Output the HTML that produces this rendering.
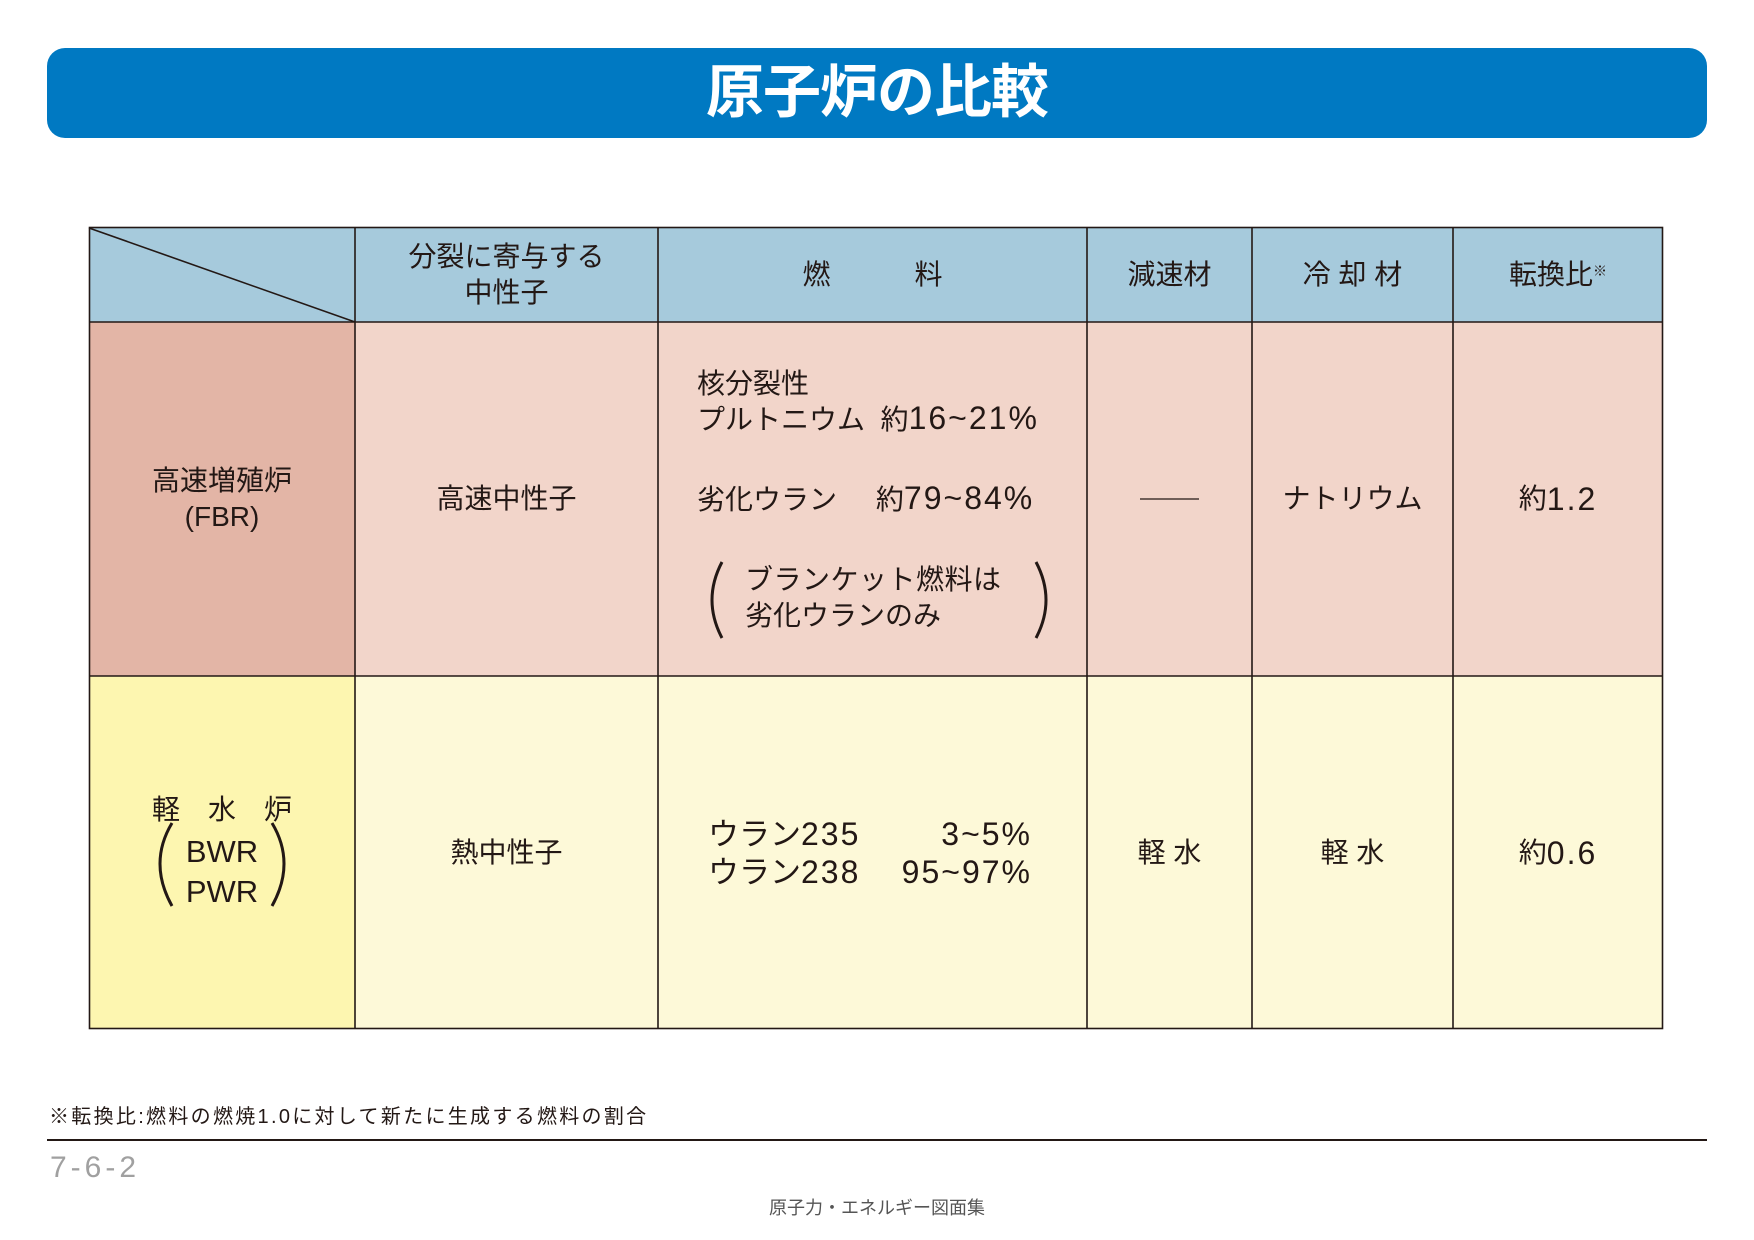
<!DOCTYPE html>
<html><head><meta charset="utf-8"><style>
body{margin:0;width:1754px;height:1240px;background:#fff;position:relative;overflow:hidden;font-family:"Liberation Sans","Noto Sans CJK JP",sans-serif;color:#231815}
.a{position:absolute;white-space:nowrap;line-height:1}
.c{position:absolute;display:flex;align-items:center;justify-content:center;text-align:center;font-size:28px;line-height:36px}
.cell{position:absolute;box-sizing:border-box}
.n{font-size:32px;letter-spacing:2px}
</style></head><body>
<div style="position:absolute;left:47px;top:48px;width:1660px;height:90px;background:#0079c2;border-radius:18px"></div>
<div class="a" style="left:0;width:1754px;top:64px;text-align:center;color:#fff;font-size:58px;font-weight:bold;letter-spacing:-1px">原子炉の比較</div>

<div class="cell" style="left:89px;top:227px;width:1574px;height:95px;background:#a6cadc"></div>
<div class="cell" style="left:89px;top:322px;width:1574px;height:354px;background:#f2d5ca"></div>
<div class="cell" style="left:89px;top:322px;width:266px;height:354px;background:#e3b5a6"></div>
<div class="cell" style="left:89px;top:676px;width:1574px;height:353px;background:#fdf9d8"></div>
<div class="cell" style="left:89px;top:676px;width:266px;height:353px;background:#fdf6b0"></div>

<svg style="position:absolute;left:0;top:0" width="1754" height="1240">
<g stroke="#231815" stroke-width="1.6" fill="none">
<rect x="89.5" y="227.5" width="1573" height="801"/>
<line x1="89" y1="322" x2="1663" y2="322"/>
<line x1="89" y1="676" x2="1663" y2="676"/>
<line x1="355" y1="227" x2="355" y2="1029"/>
<line x1="658" y1="227" x2="658" y2="1029"/>
<line x1="1087" y1="227" x2="1087" y2="1029"/>
<line x1="1252" y1="227" x2="1252" y2="1029"/>
<line x1="1453" y1="227" x2="1453" y2="1029"/>
<line x1="89" y1="228" x2="355" y2="322"/>
<line x1="1140" y1="499" x2="1199" y2="499" stroke-width="1.2"/>
<line x1="47" y1="1140" x2="1707" y2="1140" stroke-width="2"/>
<path d="M722 562 Q702 600 722 638" stroke-width="3"/>
<path d="M1036 562 Q1056 600 1036 638" stroke-width="3"/>
<path d="M172 823 Q148 863 172 906" stroke-width="3"/>
<path d="M272 823 Q296 863 272 906" stroke-width="3"/>
</g></svg>

<div class="c" style="left:355px;top:227px;width:303px;height:95px">分裂に寄与する<br>中性子</div>
<div class="c" style="left:658px;top:227px;width:429px;height:95px">燃　　　料</div>
<div class="c" style="left:1087px;top:227px;width:165px;height:95px">減速材</div>
<div class="c" style="left:1252px;top:227px;width:201px;height:95px">冷 却 材</div>
<div class="c" style="left:1453px;top:227px;width:210px;height:95px">転換比<sup style="font-size:14px;position:relative;top:-4px">※</sup></div>

<div class="c" style="left:89px;top:322px;width:266px;height:354px">高速増殖炉<br>(FBR)</div>
<div class="c" style="left:355px;top:322px;width:303px;height:354px">高速中性子</div>
<div class="a" style="left:697px;top:370px;font-size:28px">核分裂性</div>
<div class="a" style="left:697px;top:402px;font-size:28px">プルトニウム&nbsp;&nbsp;約<span class="n">16~21%</span></div>
<div class="a" style="left:697px;top:482px;font-size:28px">劣化ウラン&nbsp;&nbsp;&nbsp;&nbsp;&nbsp;約<span class="n">79~84%</span></div>
<div class="a" style="left:745px;top:566px;font-size:28px;letter-spacing:0.5px">ブランケット燃料は</div>
<div class="a" style="left:745px;top:602px;font-size:28px">劣化ウランのみ</div>
<div class="c" style="left:1252px;top:322px;width:201px;height:354px">ナトリウム</div>
<div class="c" style="left:1453px;top:322px;width:210px;height:354px">約<span class="n">1.2</span></div>

<div class="a" style="left:89px;width:266px;text-align:center;top:796px;font-size:28px">軽　水　炉</div>
<div class="a" style="left:89px;width:266px;text-align:center;top:836px;font-size:31px">BWR</div>
<div class="a" style="left:89px;width:266px;text-align:center;top:876px;font-size:31px">PWR</div>
<div class="c" style="left:355px;top:676px;width:303px;height:353px">熱中性子</div>
<div class="a" style="left:708px;top:818px;font-size:31px">ウラン<span class="n">235</span></div>
<div class="a" style="left:1032px;top:818px;font-size:31px;transform:translateX(-100%)"><span class="n">3~5%</span></div>
<div class="a" style="left:708px;top:856px;font-size:31px">ウラン<span class="n">238</span></div>
<div class="a" style="left:1032px;top:856px;font-size:31px;transform:translateX(-100%)"><span class="n">95~97%</span></div>
<div class="c" style="left:1087px;top:676px;width:165px;height:353px">軽 水</div>
<div class="c" style="left:1252px;top:676px;width:201px;height:353px">軽 水</div>
<div class="c" style="left:1453px;top:676px;width:210px;height:353px">約<span class="n">0.6</span></div>

<div class="a" style="left:49px;top:1107px;font-size:20px;letter-spacing:2.3px">※転換比:燃料の燃焼1.0に対して新たに生成する燃料の割合</div>
<div class="a" style="left:50px;top:1153px;font-size:30px;color:#a0a0a0;letter-spacing:4px">7-6-2</div>
<div class="a" style="left:0;width:1754px;text-align:center;top:1199px;font-size:18px;color:#555">原子力・エネルギー図面集</div>
</body></html>
